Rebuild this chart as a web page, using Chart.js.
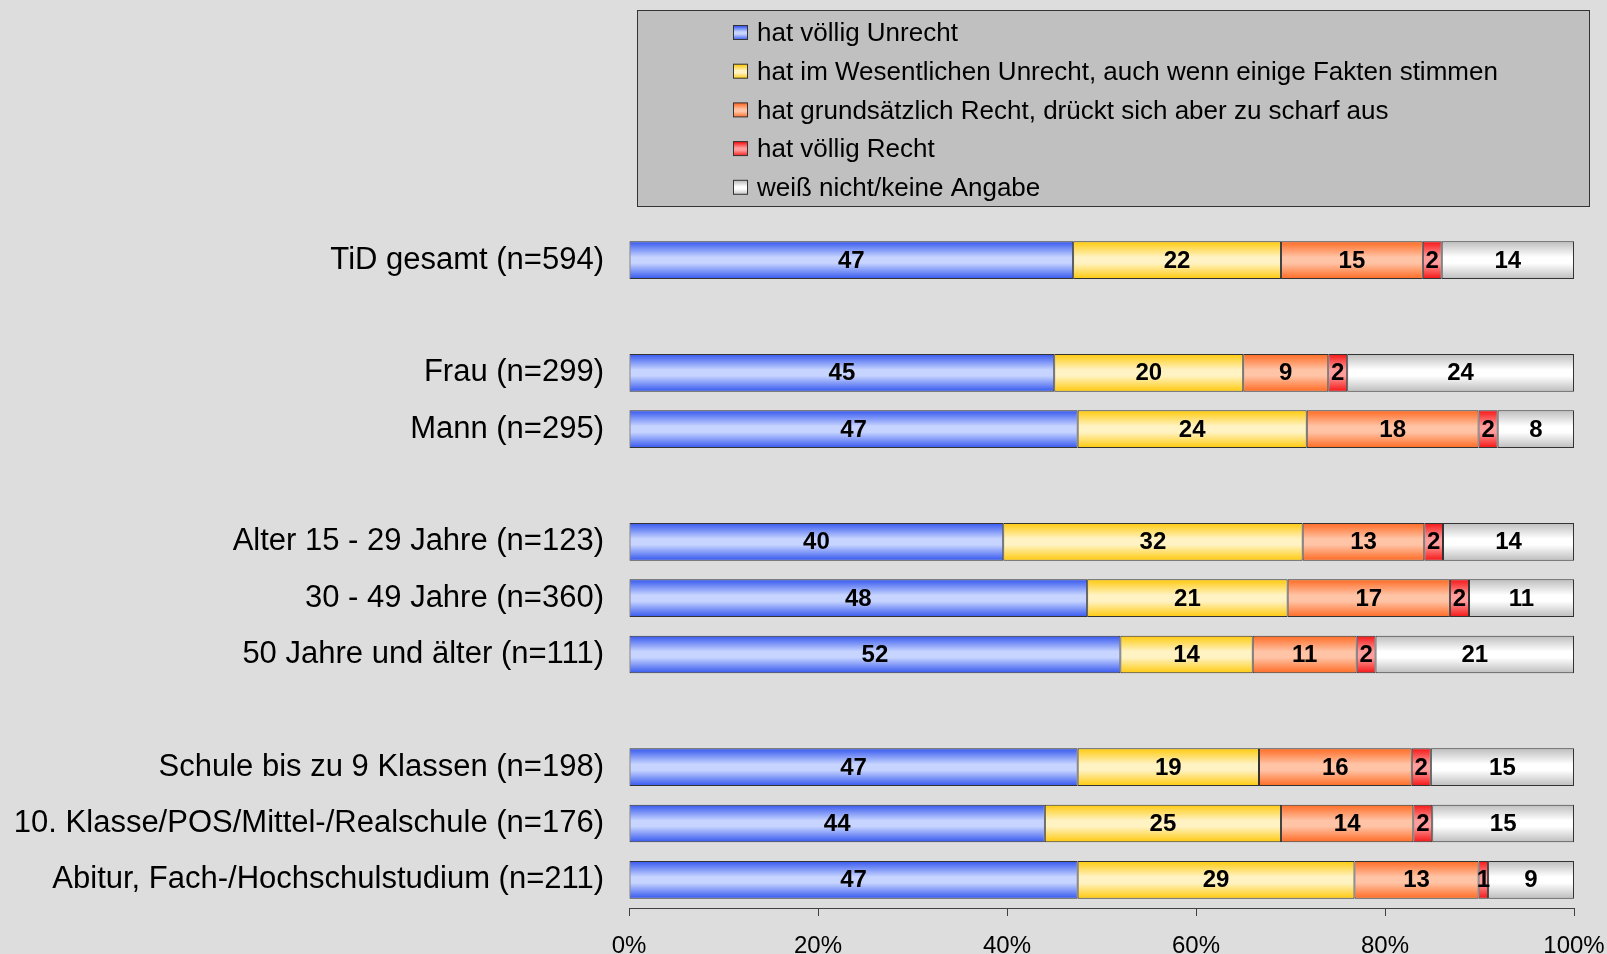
<!DOCTYPE html>
<html>
<head>
<meta charset="utf-8">
<title>Umfrage</title>
<script src="https://cdn.jsdelivr.net/npm/chart.js@4.4.1/dist/chart.umd.min.js"></script>
<style>
    body { margin: 0; background: #dddddd; }
    #wrap { width: 1607px; height: 954px; }
</style>
</head>
<body>
<div id="wrap"><canvas id="umfrageChart" width="1607" height="954"></canvas></div>
<script>
// Kategorien (leere Einträge = Abstand zwischen den Gruppen)
var kategorien = [
    "TiD gesamt (n=594)", "",
    "Frau (n=299)", "Mann (n=295)", "",
    "Alter 15 - 29 Jahre (n=123)", "30 - 49 Jahre (n=360)", "50 Jahre und älter (n=111)", "",
    "Schule bis zu 9 Klassen (n=198)", "10. Klasse/POS/Mittel-/Realschule (n=176)", "Abitur, Fach-/Hochschulstudium (n=211)"
];

var legendenTexte = [
    "hat völlig Unrecht",
    "hat im Wesentlichen Unrecht, auch wenn einige Fakten stimmen",
    "hat grundsätzlich Recht, drückt sich aber zu scharf aus",
    "hat völlig Recht",
    "weiß nicht/keine Angabe"
];

// Prozentwerte je Antwort
var voelligUnrecht    = [47, null, 45, 47, null, 40, 48, 52, null, 47, 44, 47];
var wesentlichUnrecht = [22, null, 20, 24, null, 32, 21, 14, null, 19, 25, 29];
var zuScharf          = [15, null,  9, 18, null, 13, 17, 11, null, 16, 14, 13];
var voelligRecht      = [ 2, null,  2,  2, null,  2,  2,  2, null,  2,  2,  1];
var weissNicht        = [14, null, 24,  8, null, 14, 11, 21, null, 15, 15,  9];

var xTicks = [0, 20, 40, 60, 80, 100];

// Farben: [Rand, Mitte] für den Verlauf
var farben = [
    ["#3456ee", "#c6d4ff"],
    ["#ffc90a", "#fff3c4"],
    ["#ff6a22", "#ffc3a6"],
    ["#f51414", "#ff9c9c"],
    ["#bdbdbd", "#ffffff"]
];

var reihen = [voelligUnrecht, wesentlichUnrecht, zuScharf, voelligRecht, weissNicht];
var schrift = '"Liberation Sans", Arial, sans-serif';
Chart.defaults.font.family = schrift;

// 100%-Darstellung: Anteil an der Zeilensumme
function anteil(serie) {
    return serie.map(function (v, i) {
        if (v === null) return null;
        var summe = reihen.reduce(function (s, r) { return s + r[i]; }, 0);
        return v / summe * 100;
    });
}

function verlauf(c, y0, y1, f) {
    var g = c.createLinearGradient(0, y0, 0, y1);
    g.addColorStop(0, f[0]);
    g.addColorStop(0.42, f[1]);
    g.addColorStop(0.58, f[1]);
    g.addColorStop(1, f[0]);
    return g;
}

// scriptable, damit jeder Balken eigene Optionen bekommt
function balkenFarbe(i) {
    return function (ctx) {
        var chart = ctx.chart;
        if (ctx.type !== 'data' || !chart.scales.y) return farben[i][0];
        var y = chart.scales.y.getPixelForValue(ctx.dataIndex);
        if (!isFinite(y)) return farben[i][0];
        return verlauf(chart.ctx, y - 19, y + 19, farben[i]);
    };
}

// Verlauf beim Zeichnen nochmal an die echte Balkenlage anpassen
var balkenVerlauf = {
    id: 'balkenVerlauf',
    beforeDatasetsDraw: function (chart) {
        chart.data.datasets.forEach(function (ds, i) {
            chart.getDatasetMeta(i).data.forEach(function (bar) {
                if (!isFinite(bar.y) || !bar.options || Object.isFrozen(bar.options)) return;
                bar.options.backgroundColor = verlauf(chart.ctx, bar.y - bar.height / 2, bar.y + bar.height / 2, farben[i]);
            });
        });
    }
};

// Zahlen mittig in die Balken schreiben
var wertBeschriftung = {
    id: 'wertBeschriftung',
    afterDatasetsDraw: function (chart) {
        var c = chart.ctx;
        c.save();
        c.font = 'bold 24px ' + schrift;
        c.fillStyle = '#000';
        c.textAlign = 'center';
        c.textBaseline = 'middle';
        chart.data.datasets.forEach(function (ds, i) {
            chart.getDatasetMeta(i).data.forEach(function (bar, j) {
                var v = ds.werte[j];
                if (v === null) return;
                var p = bar.getCenterPoint();
                c.fillText(String(v), p.x, p.y + 1);
            });
        });
        c.restore();
    }
};

// Legende als graue Box oben rechts
var legendeBox = {
    id: 'legendeBox',
    afterDraw: function (chart) {
        var c = chart.ctx;
        c.save();
        c.fillStyle = '#c0c0c0';
        c.fillRect(637.5, 10.5, 952, 196);
        c.strokeStyle = '#333';
        c.lineWidth = 1;
        c.strokeRect(637.5, 10.5, 952, 196);
        c.font = '26px ' + schrift;
        c.textBaseline = 'middle';
        c.textAlign = 'left';
        legendenTexte.forEach(function (t, i) {
            var y = 33 + i * 38.7;
            c.fillStyle = verlauf(c, y - 7, y + 7, farben[i]);
            c.fillRect(733.5, y - 7.5, 14, 14);
            c.strokeStyle = '#333';
            c.strokeRect(733.5, y - 7.5, 14, 14);
            c.fillStyle = '#000';
            c.fillText(t, 757, y + 1);
        });
        c.restore();
    }
};

var datasets = reihen.map(function (serie, i) {
    return {
        label: legendenTexte[i],
        data: anteil(serie),
        werte: serie,
        backgroundColor: balkenFarbe(i),
        borderColor: '#333333',
        borderWidth: 1,
        borderSkipped: false,
        barPercentage: 1,
        categoryPercentage: 0.67
    };
});

var ctx = document.getElementById("umfrageChart").getContext("2d");
window.umfrageChart = new Chart(ctx, {
    type: "bar",
    data: { labels: kategorien, datasets: datasets },
    plugins: [balkenVerlauf, wertBeschriftung, legendeBox],
    options: {
        indexAxis: 'y',
        responsive: false,
        animation: false,
        layout: { padding: { top: 232, right: 33, left: 0, bottom: 0 } },
        plugins: { legend: { display: false }, tooltip: { enabled: false } },
        scales: {
            x: {
                stacked: true,
                min: 0,
                max: 100,
                afterFit: function (scale) {
                    scale.height = 46;
                    scale.paddingLeft = 0;
                    scale.paddingRight = 0;
                },
                afterBuildTicks: function (scale) {
                    scale.ticks = xTicks.map(function (v) { return { value: v }; });
                },
                ticks: {
                    font: { size: 24 },
                    color: '#000',
                    padding: 16,
                    callback: function (v) { return v + '%'; }
                },
                grid: { drawOnChartArea: false, drawTicks: true, tickLength: 8, color: '#404040' },
                border: { display: true, color: '#404040', width: 1 }
            },
            y: {
                stacked: true,
                afterFit: function (scale) { scale.width = 629; },
                ticks: { font: { size: 31 }, color: '#000', padding: 17, autoSkip: false },
                grid: { display: false },
                border: { display: false }
            }
        }
    }
});
</script>
</body>
</html>
